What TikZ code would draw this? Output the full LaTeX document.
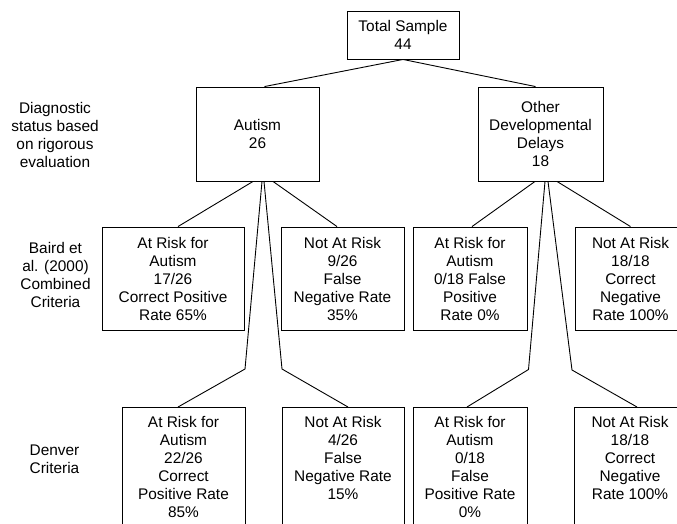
\documentclass[tikz,border=0pt]{standalone}
\usepackage{fontspec}
\setmainfont{Liberation Sans}

\begin{document}
\begin{tikzpicture}[x=1pt, y=-1pt, line width=0.9pt,
  every node/.style={font=\fontsize{15.4}{18}\selectfont, align=center},
  box/.style={draw, inner sep=0pt},
  tallbox/.style={draw, anchor=north, inner xsep=0pt, inner ysep=9pt, text depth=110pt}]
  \useasboundingbox (0,0) rectangle (677,523);
  \clip (0,0) rectangle (677,523);

  % Top of the tree
  \node[box, minimum width=112, minimum height=48] (total) at (403,35) {Total Sample\\44};

  % Diagnostic status
  \node[box, minimum width=123, minimum height=94] (autism) at (257.5,134) {Autism\\26};
  \node[box, minimum width=125, minimum height=94] (other) at (540.5,134) {Other\\Developmental\\Delays\\18};

  % Baird et al. (2000) row
  \node[box, minimum width=142, minimum height=103] (bairdA) at (173,278.5) {At Risk for\\Autism\\17/26\\Correct Positive\\Rate 65\%};
  \node[box, minimum width=123, minimum height=103] (bairdB) at (342.5,278.5) {Not At Risk\\9/26\\False\\Negative Rate\\35\%};
  \node[box, minimum width=114, minimum height=103] (bairdC) at (470,278.5) {At Risk for\\Autism\\0/18 False\\Positive\\Rate 0\%};
  \node[box, minimum width=111, minimum height=103] (bairdD) at (630.5,278.5) {Not At Risk\\18/18\\Correct\\Negative\\Rate 100\%};

  % Denver row, boxes run off the page
  \node[tallbox, minimum width=123] (denverA) at (183.5,407) {At Risk for\\Autism\\22/26\\Correct\\Positive Rate\\85\%};
  \node[tallbox, minimum width=122] (denverB) at (343,407) {Not At Risk\\4/26\\False\\Negative Rate\\15\%};
  \node[tallbox, minimum width=114] (denverC) at (470,407) {At Risk for\\Autism\\0/18\\False\\Positive Rate\\0\%};
  \node[tallbox, minimum width=112] (denverD) at (630,407) {Not At Risk\\18/18\\Correct\\Negative\\Rate 100\%};

  % Row labels
  \node (diag) at (55,134.5) {Diagnostic\\status based\\on rigorous\\evaluation};
  \node (baird) at (55.5,275) {Baird et\\al. (2000)\\Combined\\Criteria};
  \node (denver) at (54.5,459) {Denver\\Criteria};

  % Bends of the long branches
  \coordinate (bendA) at (245,369);
  \coordinate (bendB) at (282,369);
  \coordinate (bendC) at (528.5,369.5);
  \coordinate (bendD) at (572,370);

  % Branches
  \draw (total.south) -- ([xshift=7pt]autism.north);
  \draw (total.south) -- ([xshift=-5pt]other.north);
  \draw ([xshift=-4.5pt]autism.south) -- ([xshift=5pt]bairdA.north);
  \draw ([xshift=15.5pt]autism.south) -- ([xshift=-5.5pt]bairdB.north);
  \draw ([xshift=4.5pt]autism.south) -- (bendA) -- ([xshift=-5.5pt]denverA.north);
  \draw ([xshift=6.5pt]autism.south) -- (bendB) -- ([xshift=5pt]denverB.north);
  \draw ([xshift=-5.5pt]other.south) -- ([xshift=2pt]bairdC.north);
  \draw ([xshift=16.5pt]other.south) -- (bairdD.north);
  \draw ([xshift=4.5pt]other.south) -- (bendC) -- ([xshift=-3pt]denverC.north);
  \draw ([xshift=7.5pt]other.south) -- (bendD) -- ([xshift=7pt]denverD.north);
\end{tikzpicture}
\end{document}
